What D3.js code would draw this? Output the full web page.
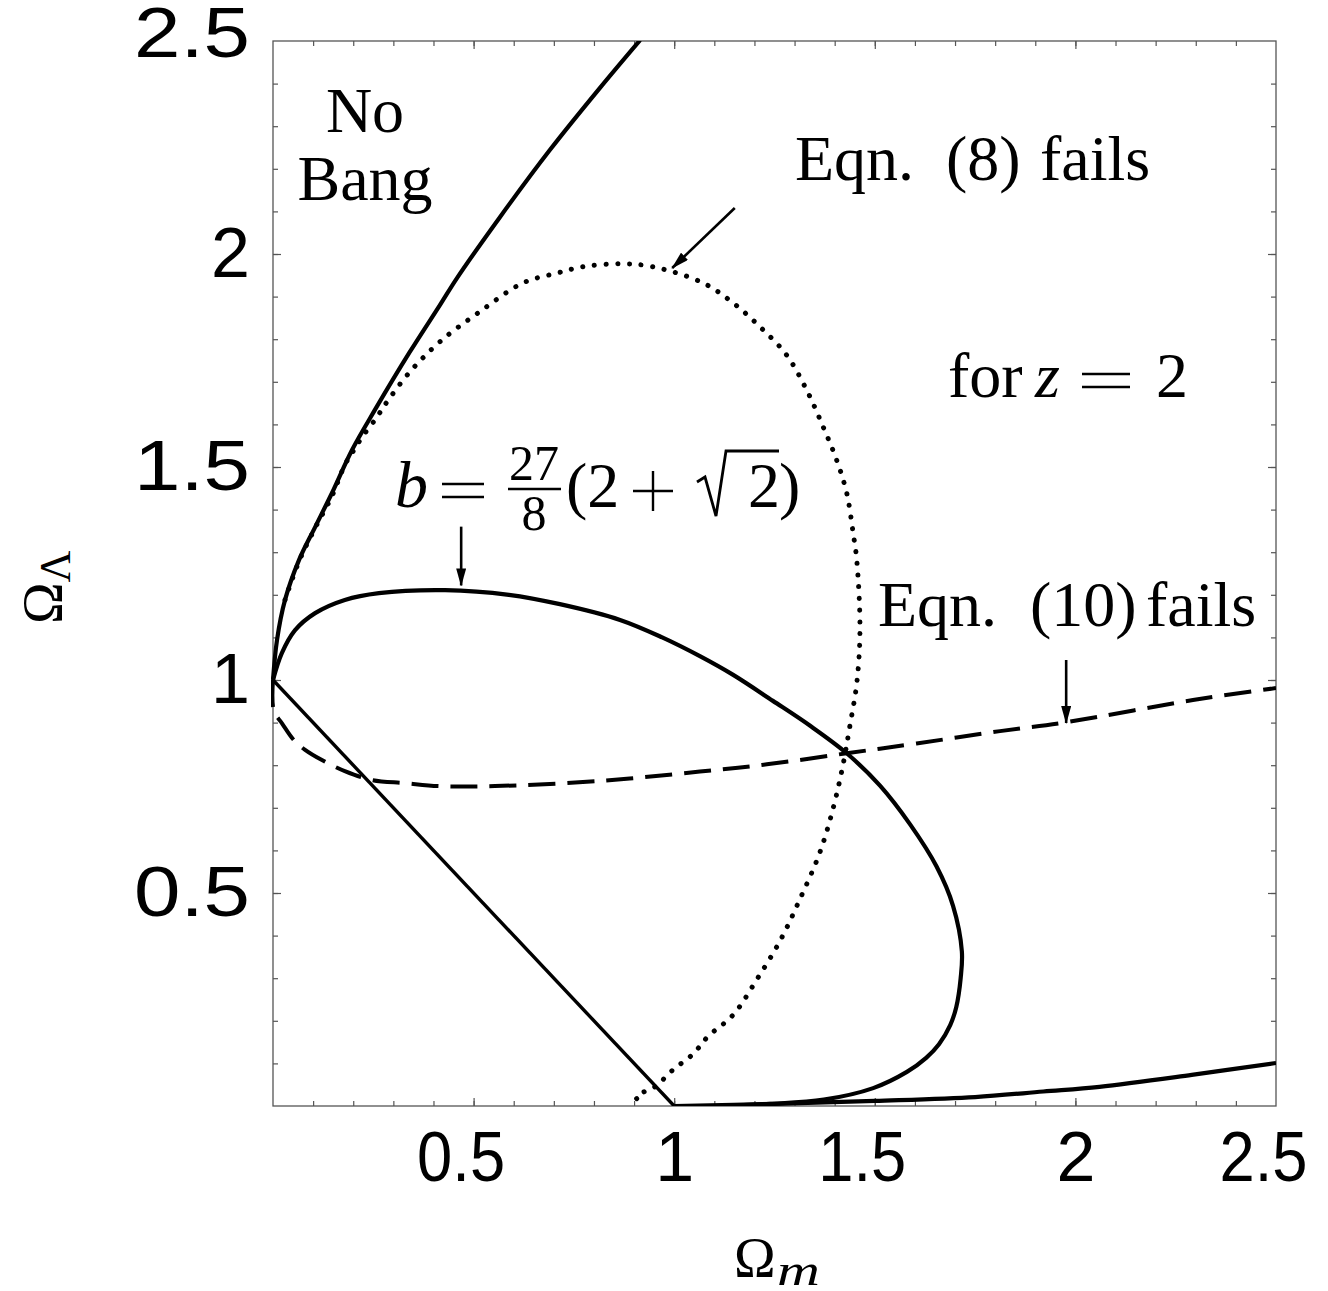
<!DOCTYPE html>
<html>
<head>
<meta charset="utf-8">
<script src="https://cdnjs.cloudflare.com/ajax/libs/d3/7.8.5/d3.min.js"></script>
<style>
  body { margin: 0; background: #fff; }
  .serif { font-family: "Liberation Serif", "DejaVu Serif", serif; fill: #000; }
</style>
</head>
<body>
<svg id="grafico" width="1328" height="1291"></svg>
<script>
// curve readings (Omega_m, Omega_Lambda)
var noBang = [[0,1],[0.01,1.094],[0.03,1.188],[0.065,1.282],[0.105,1.359],[0.147,1.439],
  [0.197,1.54],[0.254,1.634],[0.341,1.77],[0.416,1.88],[0.459,1.944],[0.566,2.087],
  [0.69,2.244],[0.815,2.39],[0.915,2.502]];

var flatLine = [[0,1],[1,0]];

var bEllipse = [[0,1],[0.022,1.063],[0.055,1.117],[0.105,1.157],[0.179,1.188],[0.264,1.204],
  [0.429,1.211],[0.588,1.2],[0.715,1.178],[0.865,1.141],[0.97,1.1],[1.064,1.056],[1.147,1.012],
  [1.246,0.951],[1.338,0.893],[1.43,0.828],[1.513,0.752],[1.588,0.661],[1.654,0.562],
  [1.695,0.47],[1.717,0.363],[1.714,0.3],[1.703,0.232],[1.688,0.19],[1.66,0.145],
  [1.628,0.113],[1.58,0.08],[1.496,0.042],[1.373,0.015],[1.239,0.005],[1.107,0.0]];

var bBottom = [[1,0],[1.25,0.005],[1.5,0.012],[1.75,0.021],[1.92,0.034],[2.06,0.045],
  [2.29,0.073],[2.5,0.101]];

var eqn8 = [[0.03,1.188],[0.065,1.279],[0.105,1.357],[0.147,1.432],[0.179,1.505],[0.197,1.533],
  [0.222,1.57],[0.259,1.617],[0.279,1.646],[0.341,1.723],[0.416,1.794],[0.516,1.865],
  [0.623,1.932],[0.707,1.955],[0.773,1.97],[0.865,1.977],[0.947,1.97],[1.072,1.932],
  [1.147,1.885],[1.214,1.829],[1.28,1.763],[1.33,1.681],[1.371,1.595],[1.405,1.516],
  [1.43,1.439],[1.446,1.345],[1.455,1.282],[1.463,1.116],[1.455,0.992],[1.438,0.893],
  [1.421,0.802],[1.397,0.702],[1.363,0.595],[1.314,0.487],[1.264,0.388],[1.206,0.297],
  [1.147,0.214],[1.084,0.163],[1.047,0.122],[0.997,0.085],[0.952,0.045],[0.922,0.032],
  [0.905,0.021],[0.927,0.0]];

var eqn10 = [[0,1],[0.002,0.927],[0.022,0.899],[0.052,0.859],[0.08,0.836],[0.122,0.812],
  [0.179,0.786],[0.247,0.765],[0.329,0.758],[0.414,0.751],[0.553,0.751],[0.815,0.763],
  [1.064,0.785],[1.231,0.802],[1.43,0.828],[1.604,0.851],[1.812,0.88],[1.978,0.901],
  [2.293,0.953],[2.5,0.981]];

var labelTicks = [0.5, 1, 1.5, 2, 2.5];
var majorTicks = [0.5, 1, 1.5, 2];
var minorTicks = d3.range(1, 25).map(function(d) { return d / 10; });

// dimensions
var svg = d3.select("svg#grafico"),
    width = +svg.attr("width"),
    height = +svg.attr("height");

var x = d3.scaleLinear().domain([0, 2.5]).range([273, 1276]);
var y = d3.scaleLinear().domain([0, 2.5]).range([1106, 41]);

svg.append("rect").attr("width", width).attr("height", height).attr("fill", "#fff");

// ticks on all four sides, pointing in
function tickRow(axis, tx, ty, values, size) {
  var g = svg.append("g")
    .attr("transform", "translate(" + tx + "," + ty + ")")
    .call(axis.tickValues(values).tickSize(-size).tickFormat(""));
  g.select(".domain").remove();
  g.selectAll(".tick line").attr("stroke", "#555").attr("stroke-width", 1.2);
}
[[minorTicks, 5], [majorTicks, 8]].forEach(function(t) {
  tickRow(d3.axisBottom(x), 0, y(0), t[0], t[1]);
  tickRow(d3.axisTop(x), 0, y(2.5), t[0], t[1]);
  tickRow(d3.axisLeft(y), x(0), 0, t[0], t[1]);
  tickRow(d3.axisRight(y), x(2.5), 0, t[0], t[1]);
});

svg.append("rect")
  .attr("x", x(0)).attr("y", y(2.5))
  .attr("width", x(2.5) - x(0)).attr("height", y(0) - y(2.5))
  .attr("fill", "none").attr("stroke", "#555").attr("stroke-width", 1.3);

// tick labels
var xl = svg.append("g")
  .attr("transform", "translate(0," + y(0) + ")")
  .call(d3.axisBottom(x).tickValues(labelTicks).tickSize(0).tickPadding(25).tickFormat(d3.format("")));
xl.select(".domain").remove();
xl.selectAll("text").attr("font-family", "Liberation Sans, Arial, sans-serif").attr("font-size", 70)
  .attr("dx", function(d) { return d % 1 ? -13 : 0; })
  .filter(function(d) { return d % 1; })
  .attr("textLength", 88).attr("lengthAdjust", "spacingAndGlyphs");

var yl = svg.append("g")
  .attr("transform", "translate(" + x(0) + ",0)")
  .call(d3.axisLeft(y).tickValues(labelTicks).tickSize(0).tickPadding(23).tickFormat(d3.format("")));
yl.select(".domain").remove();
yl.selectAll("text").attr("font-family", "Liberation Sans, Arial, sans-serif").attr("font-size", 70)
  .attr("dy", function(d) { return d === 2.5 ? "0.22em" : "0.32em"; })
  .filter(function(d) { return d % 1; })
  .attr("textLength", 116).attr("lengthAdjust", "spacingAndGlyphs");

// curves
svg.append("clipPath").attr("id", "plotclip").append("rect")
  .attr("x", x(0) - 2).attr("y", y(2.5))
  .attr("width", x(2.5) - x(0) + 2).attr("height", y(0) - y(2.5));

var line = d3.line()
  .x(function(d) { return x(d[0]); })
  .y(function(d) { return y(d[1]); })
  .curve(d3.curveCatmullRom.alpha(0.5));

var curves = svg.append("g").attr("clip-path", "url(#plotclip)")
  .attr("fill", "none").attr("stroke", "#000");

curves.append("path").attr("d", line(noBang)).attr("stroke-width", 4.2);
curves.append("path").attr("d", d3.line().x(function(d) { return x(d[0]); }).y(function(d) { return y(d[1]); })(flatLine))
  .attr("stroke-width", 3.4);
curves.append("path").attr("d", line(bEllipse)).attr("stroke-width", 4.2);
curves.append("path").attr("d", line(bBottom)).attr("stroke-width", 4.2);
curves.append("path").attr("d", line(eqn8)).attr("stroke-width", 5)
  .attr("stroke-linecap", "round").attr("stroke-dasharray", "0.1,11.6");
curves.append("path").attr("d", line(eqn10)).attr("stroke-width", 4)
  .attr("stroke-dasharray", "27,12");

// arrows
var defs = svg.append("defs");
defs.append("marker").attr("id", "head")
  .attr("markerUnits", "userSpaceOnUse")
  .attr("viewBox", "0 0 18 10").attr("refX", 17).attr("refY", 5)
  .attr("markerWidth", 18).attr("markerHeight", 10).attr("orient", "auto")
  .append("path").attr("d", "M0,0 L18,5 L0,10 Z").attr("fill", "#000");

function arrow(x1, y1, x2, y2) {
  svg.append("line")
    .attr("x1", x(x1)).attr("y1", y(y1)).attr("x2", x(x2)).attr("y2", y(y2))
    .attr("stroke", "#000").attr("stroke-width", 2.6).attr("marker-end", "url(#head)");
}
arrow(1.151, 2.108, 0.995, 1.967);
arrow(0.469, 1.36, 0.469, 1.222);
arrow(1.977, 1.047, 1.977, 0.899);

// annotations
function txt(str, px, py, size, opts) {
  opts = opts || {};
  return svg.append("text").attr("class", "serif")
    .attr("x", px).attr("y", py).attr("font-size", size)
    .attr("font-style", opts.italic ? "italic" : "normal")
    .attr("text-anchor", opts.anchor || "start")
    .text(str);
}
function bar(x1, x2, py) {
  svg.append("line").attr("x1", x1).attr("x2", x2).attr("y1", py).attr("y2", py)
    .attr("stroke", "#000").attr("stroke-width", 2.4);
}
// TeX-wide equals sign
function equals(x1, x2, base) {
  bar(x1, x2, base - 23);
  bar(x1, x2, base - 10);
}

txt("No", 365, 132, 64, {anchor: "middle"});
txt("Bang", 365, 200, 64, {anchor: "middle"});

txt("Eqn.", 795, 180, 64);
txt("(8)", 946, 180, 64);
txt("fails", 1040, 180, 64);

txt("for", 948, 397, 64);
txt("z", 1035, 397, 64, {italic: true});
equals(1082, 1130, 397);
txt("2", 1156, 397, 64);

txt("Eqn.", 878, 626, 64);
txt("(10)", 1030, 626, 64);
txt("fails", 1146, 626, 64);

// b = 27/8 (2 + sqrt 2)
txt("b", 395, 507, 66, {italic: true});
equals(442, 484, 507);
txt("27", 534, 480, 50, {anchor: "middle"});
txt("8", 534, 530, 50, {anchor: "middle"});
bar(508, 561, 489);
txt("(2", 566, 507, 64);
bar(633, 673, 491);
svg.append("line").attr("x1", 653).attr("x2", 653).attr("y1", 471).attr("y2", 511)
  .attr("stroke", "#000").attr("stroke-width", 2.4);
svg.append("path").attr("d", "M697,482 L705,477 L716,516 L726,451 L779,451")
  .attr("fill", "none").attr("stroke", "#000").attr("stroke-width", 2.8)
  .attr("stroke-linejoin", "miter");
txt("2", 748, 507, 64);
txt(")", 779, 507, 64);

// axis titles
txt("\u03A9", 734, 1277, 56);
svg.append("text").attr("class", "serif")
  .attr("transform", "translate(777,1285) scale(1.35,1)")
  .attr("font-size", 44).attr("font-style", "italic").text("m");

var yt = svg.append("text").attr("class", "serif")
  .attr("transform", "translate(62,624) rotate(-90)").attr("font-size", 56);
yt.append("tspan").text("\u03A9");
yt.append("tspan").attr("font-size", 44).attr("dy", 8).text("\u039B");
</script>
</body>
</html>
